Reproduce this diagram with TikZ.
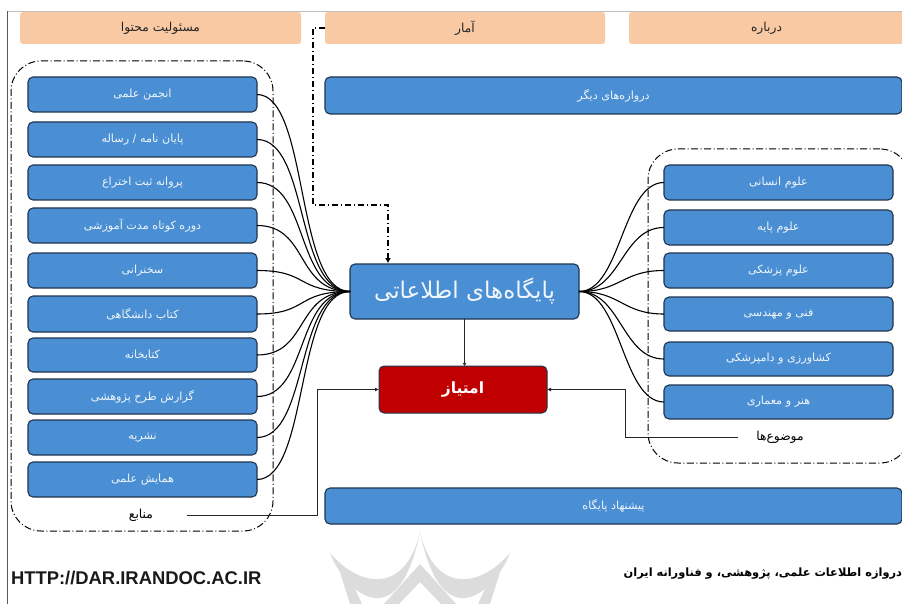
\documentclass[tikz,border=0pt]{standalone}
\usepackage{fontspec}
\usetikzlibrary{arrows.meta}
\setmainfont{Liberation Sans}
\newfontfamily\arabicfont[Script=Arabic]{DejaVu Sans}
\TeXXeTstate=1
\definecolor{boxblue}{HTML}{4A8FD3}
\definecolor{boxedge}{HTML}{1F3550}
\definecolor{peach}{HTML}{F8C9A2}
\definecolor{scorered}{HTML}{C00000}
\definecolor{wmark}{HTML}{DCDCDC}
\tikzset{
  x=1pt,y=-1pt,
  every node/.style={inner sep=0pt,outer sep=0pt},
  bluebox/.style={draw=boxedge,line width=1.1pt,fill=boxblue,rounded corners=5pt,text=white!92!boxblue,font=\arabicfont\fontsize{11.2}{13}\selectfont,anchor=north west},
  peachbox/.style={fill=peach,rounded corners=3pt,text=black!85,font=\arabicfont\fontsize{12.3}{14}\selectfont,anchor=north west},
  plainlabel/.style={text=black,font=\arabicfont\fontsize{12.3}{14}\selectfont},
  groupframe/.style={draw=black,line width=1pt,dash pattern=on 7pt off 2.5pt on 1pt off 2.5pt,rounded corners=30pt},
  fan/.style={draw=black,line width=1.1pt},
  elbow/.style={draw=black!85,line width=.9pt,-{Latex[length=4pt,width=4pt]}},
}
\newcommand{\bbox}[6]{\node[bluebox,minimum width=#3pt,minimum height=#4pt] (#5) at (#1,#2) {#6};}
\begin{document}
\begin{tikzpicture}
\useasboundingbox (0,0) rectangle (902,604);
\fill[white] (0,0) rectangle (902,604);
% page frame
\draw[draw=black!25,line width=.8pt] (7,11) -- (902,11);
\draw[draw=black!65,line width=1pt] (7,604) -- (7,11);
% watermark
\begin{scope}
\clip (0,0) rectangle (902,604);
\fill[wmark] (330,553) .. controls (345,592) and (398,640) .. (420,532)
  .. controls (406,592) and (362,590) .. (330,553) -- cycle;
\fill[wmark] (420,532) .. controls (442,640) and (495,592) .. (510,553)
  .. controls (478,590) and (434,592) .. (420,532) -- cycle;
\fill[wmark] (340,572) -- (350,604) -- (362,604) -- (352,582) -- cycle;
\fill[wmark] (500,572) -- (490,604) -- (478,604) -- (488,582) -- cycle;
\fill[wmark] (420,564) -- (456,604) -- (441,604) -- (420,582) -- (399,604) -- (384,604) -- cycle;
\end{scope}
% top tabs
\node[peachbox,minimum width=281pt,minimum height=32pt] (tab1) at (20,12) {\beginR مسئولیت محتوا\endR};
\node[peachbox,minimum width=280pt,minimum height=32pt] (tab2) at (325,12) {\beginR آمار\endR};
\node[peachbox,minimum width=275pt,minimum height=32pt] (tab3) at (629,12) {\beginR درباره\endR};
% group frames
\node[groupframe,minimum width=262pt,minimum height=470pt,anchor=north west] (srcframe) at (11,61) {};
\node[groupframe,minimum width=262pt,minimum height=314pt,anchor=north west] (topframe) at (648,149) {};
% wide boxes
\bbox{325}{77}{577}{37}{portals}{\beginR دروازه‌های دیگر\endR}
\bbox{325}{488}{577}{36}{suggest}{\beginR پیشنهاد پایگاه\endR}
% source boxes
\bbox{28}{77}{229}{35}{s1}{\beginR انجمن علمی\endR}
\bbox{28}{122}{229}{35}{s2}{\beginR پایان نامه / رساله\endR}
\bbox{28}{165}{229}{35}{s3}{\beginR پروانه ثبت اختراع\endR}
\bbox{28}{208}{229}{35}{s4}{\beginR دوره کوتاه مدت آموزشی\endR}
\bbox{28}{253}{229}{35}{s5}{\beginR سخنرانی\endR}
\bbox{28}{296}{229}{36}{s6}{\beginR کتاب دانشگاهی\endR}
\bbox{28}{338}{229}{34}{s7}{\beginR کتابخانه\endR}
\bbox{28}{379}{229}{35}{s8}{\beginR گزارش طرح پژوهشی\endR}
\bbox{28}{420}{229}{35}{s9}{\beginR نشریه\endR}
\bbox{28}{462}{229}{35}{s10}{\beginR همایش علمی\endR}
% subject boxes
\bbox{664}{165}{229}{35}{t1}{\beginR علوم انسانی\endR}
\bbox{664}{210}{229}{35}{t2}{\beginR علوم پایه\endR}
\bbox{664}{253}{229}{35}{t3}{\beginR علوم پزشکی\endR}
\bbox{664}{297}{229}{34}{t4}{\beginR فنی و مهندسی\endR}
\bbox{664}{342}{229}{34}{t5}{\beginR کشاورزی و دامپزشکی\endR}
\bbox{664}{385}{229}{34}{t6}{\beginR هنر و معماری\endR}
% centre
\node[bluebox,minimum width=229pt,minimum height=55pt,font=\arabicfont\fontsize{23}{26}\selectfont] (db) at (350,264) {\beginR پایگاه‌های اطلاعاتی\endR};
\node[draw=boxedge,line width=1pt,fill=scorered,rounded corners=5pt,text=white,font=\arabicfont\fontsize{15.5}{18}\bfseries\selectfont,minimum width=168pt,minimum height=47pt,anchor=north west] (score) at (379,366) {\beginR امتیاز\endR};
% labels
\node[plainlabel] (srclabel) at (141,515) {\beginR منابع\endR};
\node[plainlabel] (toplabel) at (780,437) {\beginR موضوع‌ها\endR};
\coordinate (srcstart) at (187,515);
\coordinate (topstart) at (738,437);
% fan connectors
\foreach \n in {s1,s2,s3,s4,s5,s6,s7,s8,s9,s10}
  \draw[fan] (\n.east) .. controls +(52,0) and +(-55,0) .. (db.west);
\foreach \n in {t1,t2,t3,t4,t5,t6}
  \draw[fan] (\n.west) .. controls +(-42,0) and +(42,0) .. (db.east);
% elbows
\draw[draw=black!85,line width=1.1pt,-{Latex[length=3pt,width=4pt]}] (db.south) -- (db.south |- score.north);
\draw[elbow] (srcstart) -- (317,515) |- (score.west);
\draw[elbow] (topstart) -- (625,437) |- (score.east);
\draw[draw=black,line width=1.2pt,dash pattern=on 6pt off 3pt on 1pt off 3pt,-{Latex[length=5pt,width=6pt]}]
  (tab2.west) -- (313,28) -- (313,205) -- (388,205) -- (388,263);
% footer
\node[font=\fontsize{18.4}{20}\bfseries\selectfont,text=black!90,anchor=west] (url) at (11,578) {HTTP://DAR.IRANDOC.AC.IR};
\node[font=\arabicfont\fontsize{11.4}{14}\bfseries\selectfont,text=black,anchor=east] (brand) at (902,574) {\beginR دروازه اطلاعات علمی، پژوهشی، و فناورانه ایران\endR};
\end{tikzpicture}
\end{document}
